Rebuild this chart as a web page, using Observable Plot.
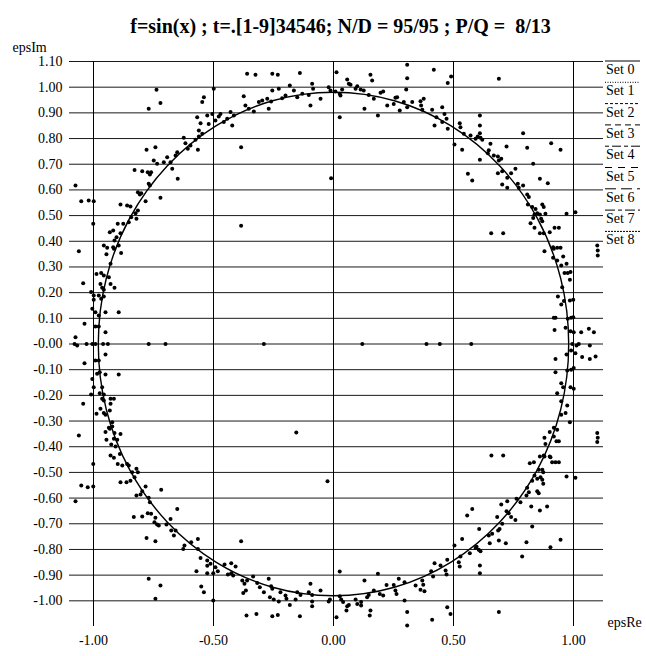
<!DOCTYPE html>
<html><head><meta charset="utf-8">
<script src="https://cdn.jsdelivr.net/npm/d3@7"></script>
<script src="https://cdn.jsdelivr.net/npm/@observablehq/plot@0.6"></script>
<style>
body{margin:0;background:#fff;}
#wrap{position:relative;width:646px;height:656px;overflow:hidden;}
</style></head><body><div id="wrap"></div>
<script>
// ---------- data ----------
const chartTitle = "f=sin(x) ; t=.[1-9]34546; N/D = 95/95 ; P/Q =  8/13";
const xLabel = "epsRe";
const yLabel = "epsIm";
const xTickValues = [-1, -0.5, 0, 0.5, 1];
const xTickLabels = ["-1.00", "-0.50", "0.00", "0.50", "1.00"];
const yTickValues = [1.1, 1.0, 0.9, 0.8, 0.7, 0.6, 0.5, 0.4, 0.3, 0.2, 0.1, 0, -0.1, -0.2, -0.3, -0.4, -0.5, -0.6, -0.7, -0.8, -0.9, -1.0];
const yTickLabels = ["1.10","1.00","0.90","0.80","0.70","0.60","0.50","0.40","0.30","0.20","0.10","-0.00","-0.10","-0.20","-0.30","-0.40","-0.50","-0.60","-0.70","-0.80","-0.90","-1.00"];
const legendLabels = ["Set 0","Set 1","Set 2","Set 3","Set 4","Set 5","Set 6","Set 7","Set 8"];

// reference curve (radius ~0.98)
const circleRe = [0.98,0.947,0.849,0.693,0.49,0.254,0,-0.254,-0.49,-0.693,-0.849,-0.947,-0.98,-0.947,-0.849,-0.693,-0.49,-0.254,0,0.254,0.49,0.693,0.849,0.947];
const circleIm = [0,0.254,0.49,0.693,0.849,0.947,0.98,0.947,0.849,0.693,0.49,0.254,0,-0.254,-0.49,-0.693,-0.849,-0.947,-0.98,-0.947,-0.849,-0.693,-0.49,-0.254];

// scatter points [epsRe, epsIm]
const topPoints = [[-0.36,1.052],[-0.325,1.048],[-0.255,1.052],[-0.232,1.048],[-0.14,1.055],[0.0125,1.058],[0.057,1.03],[0.064,1.013],[0.154,1.048],[0.161,1.026],[0.307,1.087],[0.307,1.035],[0.303,0.991],[-0.374,0.965],[-0.367,0.929],[-0.353,0.916],[-0.332,0.905],[-0.311,0.942],[-0.297,0.948],[-0.276,0.955],[-0.27,0.916],[-0.26,0.944],[-0.255,0.987],[-0.228,0.994],[-0.214,0.957],[-0.2,0.968],[-0.182,1.007],[-0.165,0.987],[-0.151,0.961],[-0.13,0.974],[-0.103,0.97],[-0.096,0.929],[-0.089,1.013],[-0.085,0.994],[-0.054,0.955],[-0.02,1.0],[-0.0125,0.987],[0.008,0.983],[0.026,0.974],[0.029,0.968],[0.026,0.883],[0.036,0.991],[0.071,1.009],[0.092,0.994],[0.099,1.004],[0.113,0.991],[0.126,0.987],[0.129,0.916],[0.147,0.97],[0.168,0.955],[0.185,0.89],[0.196,0.978],[0.207,0.983],[0.224,0.929],[0.251,0.935],[0.265,0.961],[0.276,0.909],[0.293,0.942]];
const upperLeftPoints = [[-0.7375,0.99],[-0.721,0.938],[-0.77,0.916],[-0.499,0.994],[-0.54,0.961],[-0.547,0.942],[-0.568,0.883],[-0.554,0.86],[-0.526,0.89],[-0.52,0.857],[-0.505,0.896],[-0.492,0.87],[-0.478,0.886],[-0.471,0.896],[-0.457,0.864],[-0.443,0.877],[-0.429,0.903],[-0.422,0.851],[-0.415,0.89],[-0.385,0.766],[-0.561,0.831],[-0.547,0.819],[-0.561,0.808],[-0.575,0.795],[-0.565,0.756],[-0.624,0.803],[-0.617,0.782],[-0.596,0.773],[-0.607,0.76],[-0.779,0.756],[-0.742,0.766],[-0.749,0.715],[-0.735,0.702],[-0.707,0.708],[-0.693,0.727],[-0.679,0.708],[-0.658,0.734],[-0.651,0.747],[-0.672,0.682],[-0.649,0.643],[-0.774,0.669],[-0.765,0.66],[-0.76,0.669],[-0.797,0.673],[-0.829,0.678],[-0.77,0.624],[-0.765,0.617],[-0.815,0.591],[-0.807,0.582],[-0.801,0.587],[-0.783,0.556],[-0.721,0.569],[-0.815,0.52],[-0.843,0.494],[-0.825,0.509],[-0.821,0.488],[-0.86,0.539],[-0.846,0.535],[-0.8875,0.543],[-0.853,0.474],[-0.876,0.468],[-0.899,0.468],[-0.918,0.442],[-0.932,0.435],[-0.8875,0.431],[-0.904,0.416],[-0.9125,0.403],[-0.918,0.377],[-0.943,0.375],[-1.075,0.617],[-1.051,0.556],[-1.02,0.559],[-0.999,0.556],[-1.001,0.468]];
const leftPoints = [[-1.061,0.361],[-0.957,0.384],[-0.946,0.349],[-0.915,0.371],[-0.895,0.384],[-0.885,0.354],[-0.929,0.312],[-0.9875,0.273],[-0.968,0.276],[-0.957,0.267],[-0.971,0.234],[-0.936,0.26],[-0.929,0.234],[-1.043,0.237],[-0.9125,0.219],[-0.964,0.219],[-0.957,0.211],[-1.01,0.202],[-0.999,0.189],[-0.999,0.172],[-0.978,0.189],[-0.968,0.176],[-0.957,0.185],[-1.005,0.137],[-0.992,0.124],[-0.978,0.111],[-0.95,0.124],[-0.895,0.124],[-1.0375,0.079],[-0.992,0.068],[-0.978,0.068],[-0.95,0.046],[-1.075,0.026],[-1.068,-0.006],[-1.079,0],[-1.029,0],[-1.005,0],[-0.992,0],[-0.96,0],[-0.94,0],[-0.77,0],[-0.7,0],[-0.95,-0.041],[-1.0375,-0.075],[-0.992,-0.064],[-0.978,-0.064],[-0.974,-0.11],[-0.985,-0.116],[-0.95,-0.119],[-0.895,-0.119],[-1.005,-0.136],[-0.999,-0.168],[-1.01,-0.197],[-0.974,-0.192],[-0.964,-0.168],[-0.957,-0.197],[-0.964,-0.213],[-0.957,-0.22],[-0.929,-0.213],[-0.915,-0.213],[-1.043,-0.233],[-0.929,-0.233],[-0.971,-0.252],[-0.9875,-0.272],[-0.957,-0.269],[-0.95,-0.275],[-0.932,-0.259],[-0.932,-0.33],[-0.922,-0.305]];
const lowerLeftPoints = [[-1.061,-0.356],[-0.95,-0.343],[-0.936,-0.326],[-0.922,-0.321],[-0.9125,-0.347],[-0.8875,-0.35],[-0.946,-0.373],[-0.926,-0.391],[-0.908,-0.399],[-0.915,-0.369],[-0.901,-0.373],[-0.929,-0.434],[-0.915,-0.443],[-0.89,-0.428],[-1.001,-0.467],[-0.899,-0.467],[-0.88,-0.473],[-0.86,-0.467],[-0.853,-0.473],[-0.839,-0.499],[-0.821,-0.486],[-0.815,-0.499],[-0.8875,-0.538],[-0.8625,-0.538],[-0.846,-0.532],[-0.829,-0.519],[-1.051,-0.551],[-1.024,-0.558],[-1.001,-0.555],[-1.075,-0.612],[-0.821,-0.59],[-0.804,-0.586],[-0.797,-0.573],[-0.783,-0.555],[-0.77,-0.599],[-0.765,-0.616],[-0.718,-0.568],[-0.832,-0.674],[-0.797,-0.672],[-0.774,-0.659],[-0.76,-0.661],[-0.742,-0.677],[-0.746,-0.694],[-0.735,-0.703],[-0.728,-0.707],[-0.696,-0.703],[-0.679,-0.681],[-0.651,-0.642],[-0.676,-0.726],[-0.658,-0.726],[-0.665,-0.746],[-0.779,-0.755],[-0.742,-0.768],[-0.621,-0.785],[-0.626,-0.798],[-0.593,-0.772],[-0.565,-0.759],[-0.565,-0.798],[-0.554,-0.833],[-0.526,-0.843],[-0.526,-0.863],[-0.5125,-0.856],[-0.492,-0.869],[-0.571,-0.885],[-0.526,-0.893],[-0.501,-0.893],[-0.482,-0.885],[-0.454,-0.859],[-0.426,-0.854],[-0.408,-0.866],[-0.44,-0.898],[-0.426,-0.893],[-0.418,-0.901],[-0.385,-0.768],[-0.38,-0.921],[-0.371,-0.934],[-0.36,-0.921],[-0.376,-0.97],[-0.365,-0.96],[-0.335,-0.905],[-0.318,-0.931],[-0.307,-0.947],[-0.551,-0.944],[-0.54,-0.967],[-0.77,-0.914],[-0.721,-0.94],[-0.742,-0.992],[-0.501,-0.999],[-0.3625,-1.057],[-0.321,-1.051]];
const bottomPoints = [[-0.29,-0.967],[-0.27,-0.914],[-0.26,-0.943],[-0.255,-0.953],[-0.265,-0.986],[-0.249,-0.995],[-0.228,-1.003],[-0.221,-0.967],[-0.2,-0.979],[-0.196,-0.992],[-0.182,-1.016],[-0.151,-0.967],[-0.1375,-0.977],[-0.158,-0.995],[-0.103,-0.967],[-0.096,-0.934],[-0.089,-0.977],[-0.089,-1.003],[-0.089,-1.021],[-0.054,-0.96],[-0.02,-1.003],[-0.015,-0.995],[0.026,-0.886],[0.026,-0.982],[0.032,-0.995],[0.04,-1.005],[0.057,-1.021],[0.054,-1.038],[0.064,-1.016],[0.0125,-1.064],[0.092,-0.995],[0.099,-1.012],[0.115,-1.005],[0.115,-1.018],[0.129,-0.921],[0.14,-0.986],[0.147,-0.977],[0.154,-1.038],[0.151,-1.057],[0.168,-0.96],[0.185,-0.895],[0.193,-0.973],[0.207,-0.979],[0.221,-0.938],[0.251,-0.938],[0.258,-0.96],[0.272,-0.914],[0.296,-0.928],[0.296,-0.999],[0.307,-1.044],[0.307,-1.096],[-0.255,-1.06],[-0.232,-1.055],[-0.14,-1.06]];
const lowerRightPoints = [[0.929,-0.3785],[0.883,-0.389],[0.658,-0.434],[0.707,-0.434],[0.86,-0.438],[0.879,-0.438],[0.901,-0.438],[0.911,-0.46],[0.925,-0.46],[0.939,-0.46],[0.971,-0.516],[1.008,-0.521],[0.818,-0.464],[0.835,-0.46],[0.855,-0.49],[0.87,-0.49],[0.874,-0.499],[0.8625,-0.519],[0.8375,-0.512],[0.828,-0.532],[0.849,-0.525],[0.874,-0.544],[0.87,-0.529],[0.807,-0.56],[0.814,-0.577],[0.849,-0.573],[0.855,-0.581],[0.804,-0.59],[0.779,-0.616],[0.7625,-0.603],[0.724,-0.612],[0.699,-0.625],[0.824,-0.633],[0.86,-0.648],[0.89,-0.633],[0.557,-0.668],[0.578,-0.642],[0.721,-0.651],[0.73,-0.659],[0.74,-0.674],[0.758,-0.685],[0.682,-0.674],[0.703,-0.7],[0.692,-0.72],[0.607,-0.72],[0.647,-0.746],[0.661,-0.739],[0.651,-0.776],[0.689,-0.765],[0.686,-0.726],[0.828,-0.711],[0.804,-0.772],[0.718,-0.776],[0.946,-0.762],[0.904,-0.791],[0.536,-0.759],[0.504,-0.785],[0.596,-0.789],[0.605,-0.801],[0.6125,-0.807],[0.568,-0.815],[0.592,-0.794],[0.786,-0.8275],[0.61,-0.8625],[0.61,-0.8925],[0.529,-0.8275],[0.522,-0.85],[0.526,-0.866],[0.474,-0.84],[0.467,-0.882],[0.471,-0.898],[0.446,-0.8625],[0.421,-0.854],[0.407,-0.885],[0.415,-0.905],[0.37,-0.921],[0.374,-0.937],[0.3625,-0.957],[0.379,-0.963],[0.342,-0.94],[0.2625,-0.973],[0.411,-1.074],[0.474,-1.025],[0.4875,-1.051],[0.689,-1.044]];
const upperRightPoints = [[0.418,1.068],[0.49,1.042],[0.476,1.016],[0.689,1.033],[0.258,0.959],[0.307,0.922],[0.328,0.942],[0.3625,0.945],[0.365,0.929],[0.376,0.955],[0.37,0.912],[0.411,0.912],[0.421,0.851],[0.429,0.883],[0.453,0.922],[0.4625,0.896],[0.471,0.877],[0.453,0.864],[0.476,0.838],[0.504,0.777],[0.526,0.86],[0.529,0.844],[0.536,0.756],[0.543,0.819],[0.571,0.812],[0.592,0.799],[0.601,0.808],[0.6125,0.803],[0.61,0.89],[0.61,0.851],[0.61,0.821],[0.62,0.795],[0.654,0.78],[0.647,0.754],[0.643,0.743],[0.61,0.717],[0.668,0.734],[0.685,0.73],[0.699,0.721],[0.689,0.715],[0.721,0.769],[0.56,0.663],[0.578,0.637],[0.685,0.665],[0.703,0.673],[0.724,0.647],[0.74,0.665],[0.758,0.682],[0.703,0.621],[0.724,0.608],[0.772,0.608],[0.79,0.617],[0.768,0.624],[0.79,0.821],[0.807,0.764],[0.832,0.702],[0.86,0.643],[0.893,0.626],[0.907,0.782],[0.946,0.756],[0.807,0.582],[0.814,0.572],[0.81,0.543],[0.828,0.533],[0.842,0.526],[0.849,0.509],[0.87,0.543],[0.876,0.533],[0.86,0.504],[0.883,0.507],[0.8375,0.504],[0.832,0.491],[0.865,0.4875],[0.87,0.478],[0.821,0.47],[0.8375,0.4525],[0.86,0.431],[0.876,0.431],[0.901,0.435],[0.921,0.4525],[0.939,0.4525],[0.657,0.431],[0.707,0.431],[0.971,0.507],[1.008,0.513],[0.915,0.377],[0.932,0.375],[0.946,0.375]];
const rightPoints = [[1.099,0.384],[1.101,0.364],[1.101,0.345],[0.879,0.361],[0.918,0.371],[0.915,0.336],[0.932,0.325],[0.957,0.341],[0.949,0.306],[0.9625,0.276],[0.976,0.276],[0.9875,0.28],[0.971,0.312],[0.985,0.25],[0.953,0.221],[0.935,0.185],[0.949,0.154],[0.96,0.167],[0.985,0.169],[0.999,0.172],[0.925,0.102],[0.976,0.098],[0.99,0.102],[0.999,0.104],[0.967,0.063],[0.921,0.055],[0.9875,0.05],[1.001,0.046],[1.032,0.046],[1.064,0.059],[1.085,0.046],[0.995,0],[1.0125,-0.006],[1.022,0],[1.068,-0.006],[0.925,-0.058],[0.971,-0.041],[0.99,-0.025],[1.008,-0.036],[1.036,-0.051],[1.068,-0.058],[1.092,-0.049],[0.925,-0.11],[0.974,-0.103],[0.99,-0.1],[1.001,-0.093],[0.949,-0.153],[0.957,-0.168],[0.9875,-0.168],[1.001,-0.174],[0.932,-0.192],[0.949,-0.223],[0.974,-0.239],[0.967,-0.269],[0.949,-0.275],[0.985,-0.305],[0.932,-0.334],[0.918,-0.326],[0.901,-0.343],[0.918,-0.36],[0.879,-0.365],[0.939,-0.379],[1.099,-0.347],[1.101,-0.365],[1.099,-0.382],[0.876,-0.434],[0.904,-0.441],[0.918,0.102]];
const interiorPoints = [[0.3875,0],[0.443,0],[0.574,0],[-0.29,0],[0.12,0],[-0.385,0.46],[-0.01,0.645],[-0.155,-0.345],[-0.025,-0.534]];

// ---------- build tables ----------
const points = [...topPoints, ...upperLeftPoints, ...leftPoints, ...lowerLeftPoints, ...bottomPoints, ...lowerRightPoints, ...upperRightPoints, ...rightPoints, ...interiorPoints]
  .map(([re, im]) => ({re, im}));
const circle = circleRe.map((re, i) => ({re, im: circleIm[i]}));
const xFmt = new Map(xTickValues.map((v, i) => [v, xTickLabels[i]]));
const yFmt = new Map(yTickValues.map((v, i) => [v, yTickLabels[i]]));

const serif = '"Liberation Serif", "Times New Roman", serif';

const chart = Plot.plot({
  width: 646,
  height: 656,
  marginLeft: 69,
  marginRight: 43,
  marginTop: 61,
  marginBottom: 30,
  style: {fontFamily: serif, fontSize: "14px", color: "#000", background: "#fff", overflow: "visible", whiteSpace: "pre"},
  x: {domain: [-1.1, 1.125], label: null},
  y: {domain: [-1.1, 1.1], label: null},
  marks: [
    Plot.gridY(yTickValues, {stroke: "#000", strokeOpacity: 0.9, strokeWidth: 1}),
    Plot.gridX(xTickValues, {stroke: "#000", strokeOpacity: 1, strokeWidth: 1}),
    Plot.axisX(xTickValues, {tickFormat: d => xFmt.get(d), tickSize: 0, tickPadding: 9, fontSize: 14, label: null}),
    Plot.axisY(yTickValues, {tickFormat: d => yFmt.get(d), tickSize: 0, tickPadding: 7, fontSize: 14, label: null}),
    Plot.line(circle, {x: "re", y: "im", curve: "catmull-rom-closed", stroke: "#000", strokeWidth: 1.4}),
    Plot.dot(points, {x: "re", y: "im", r: 2, fill: "#000"}),
    Plot.text([chartTitle], {frameAnchor: "top", dy: -43, dx: 4, fontSize: 20, fontWeight: "bold", fill: "#000"}),
    Plot.text([yLabel], {frameAnchor: "top-left", dx: -57, dy: -19, textAnchor: "start", fontSize: 14, fill: "#000"}),
    Plot.text([xLabel], {frameAnchor: "bottom-right", dx: 4, dy: 0, textAnchor: "start", fontSize: 14, fill: "#000"})
  ]
});
document.getElementById("wrap").appendChild(chart);

// ---------- legend ----------
const legendDash = [null, "1,1.5", "3,2", "6,4", "4,3,9,3", "7,6", "11,5", "10,3,4,3", "2,1"];
const leg = d3.select("#wrap").append("svg")
  .attr("width", 646).attr("height", 656)
  .style("position", "absolute").style("left", "0px").style("top", "0px")
  .style("pointer-events", "none");
const items = leg.selectAll("g").data(legendLabels).join("g")
  .attr("transform", (d, i) => `translate(605,${61 + i * 21.3})`);
items.append("line").attr("x1", 0).attr("x2", 35).attr("y1", 0).attr("y2", 0)
  .attr("stroke", "#000").attr("stroke-width", 1)
  .attr("stroke-dasharray", (d, i) => legendDash[i]);
items.append("text").attr("x", 1).attr("y", 13).text(d => d)
  .attr("font-family", serif).attr("font-size", 14).attr("fill", "#000");
</script>
</body></html>
